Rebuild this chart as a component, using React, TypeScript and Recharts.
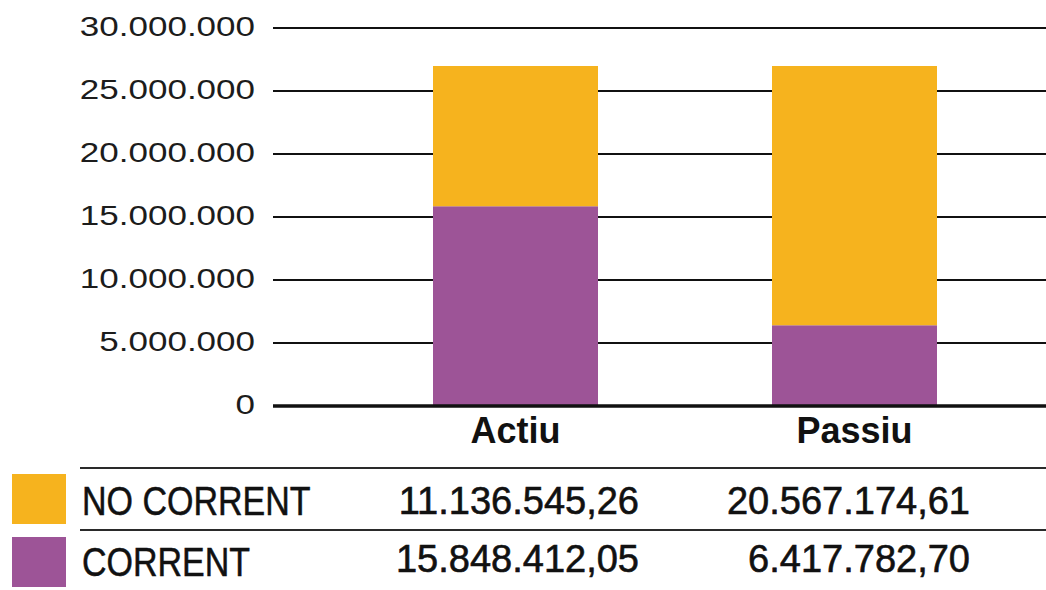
import React from 'react';
import { BarChart, Bar, XAxis, YAxis, CartesianGrid, Legend } from 'recharts';

const FONT = '"Liberation Sans", Arial, Helvetica, sans-serif';

const categories = ['Actiu', 'Passiu'];
const correntValues = [15848412.05, 6417782.7];
const noCorrentValues = [11136545.26, 20567174.61];
const yTicks = [0, 5000000, 10000000, 15000000, 20000000, 25000000, 30000000];

const SERIES = [
  { key: 'noCorrent', label: 'NO CORRENT', color: '#F6B31E', values: noCorrentValues },
  { key: 'corrent', label: 'CORRENT', color: '#9D5497', values: correntValues },
];

const data = categories.map((name, i) => ({
  name,
  corrent: correntValues[i],
  noCorrent: noCorrentValues[i],
}));

const groupThousands = (s: string) => s.replace(/\B(?=(\d{3})+(?!\d))/g, '.');
const fmtInt = (v: number) => groupThousands(String(Math.round(v)));
const fmtDec = (v: number) => {
  const [int, dec] = v.toFixed(2).split('.');
  return `${groupThousands(int)},${dec}`;
};

function YTick({ x, y, payload }: any) {
  return (
    <g transform={`translate(${x},${y - 2})`}>
      <text
        transform="scale(1.25,1)"
        textAnchor="end"
        dy="0.36em"
        fontSize={28}
        fontFamily={FONT}
        fill="#1c1c1c"
      >
        {fmtInt(payload.value)}
      </text>
    </g>
  );
}

function XTick({ x, y, payload }: any) {
  return (
    <text
      x={x}
      y={y + 25}
      textAnchor="middle"
      fontSize={36}
      fontWeight="bold"
      fontFamily={FONT}
      fill="#111"
    >
      {payload.value}
    </text>
  );
}

// table under the chart, drawn as the legend
const LINE_Y = [6, 68];
const SWATCH_Y = [12, 75];
const LABEL_BASE = [53, 114];
const VALUE_BASE = [52, 110];
const VALUE_RIGHT = [639, 970];

const renderTable = () => (
  <svg width={1046} height={128} style={{ display: 'block' }}>
    {SERIES.map((s, i) => (
      <g key={s.key}>
        <line x1={80} x2={1046} y1={LINE_Y[i]} y2={LINE_Y[i]} stroke="#2a2a2a" strokeWidth={2} />
        <rect x={12} y={SWATCH_Y[i]} width={54} height={50} fill={s.color} />
        <g transform={`translate(82,${LABEL_BASE[i]})`}>
          <text
            transform="scale(0.85,1)"
            fontSize={40}
            fontFamily={FONT}
            fill="#111"
            stroke="#111"
            strokeWidth={0.5}
          >
            {s.label}
          </text>
        </g>
        {s.values.map((v, j) => (
          <text
            key={j}
            x={VALUE_RIGHT[j]}
            y={VALUE_BASE[i]}
            textAnchor="end"
            fontSize={38}
            fontFamily={FONT}
            fill="#111"
            stroke="#111"
            strokeWidth={0.6}
          >
            {fmtDec(v)}
          </text>
        ))}
      </g>
    ))}
  </svg>
);

export default function App() {
  return (
    <div style={{ position: 'absolute', left: 0, top: 0, width: 1046, height: 590, background: '#fff' }}>
      <BarChart
        width={1046}
        height={590}
        data={data}
        margin={{ top: 28, right: 0, bottom: 134, left: 0 }}
        barSize={165}
      >
        <CartesianGrid horizontal vertical={false} stroke="#111" strokeWidth={2} />
        <XAxis
          dataKey="name"
          height={50}
          padding={{ left: 73, right: 22 }}
          tickLine={false}
          tickSize={0}
          tickMargin={12}
          axisLine={{ stroke: '#111', strokeWidth: 3.5 }}
          tick={<XTick />}
        />
        <YAxis
          width={273}
          domain={[0, 30000000]}
          ticks={yTicks}
          interval={0}
          tickLine={false}
          axisLine={false}
          tickSize={0}
          tickMargin={18}
          tick={<YTick />}
        />
        <Legend
          layout="horizontal"
          verticalAlign="middle"
          align="center"
          wrapperStyle={{ left: 0, top: 462, width: 1046, height: 128 }}
          content={renderTable}
        />
        <Bar dataKey="corrent" stackId="a" fill="#9D5497" isAnimationActive={false} />
        <Bar dataKey="noCorrent" stackId="a" fill="#F6B31E" isAnimationActive={false} />
      </BarChart>
    </div>
  );
}
